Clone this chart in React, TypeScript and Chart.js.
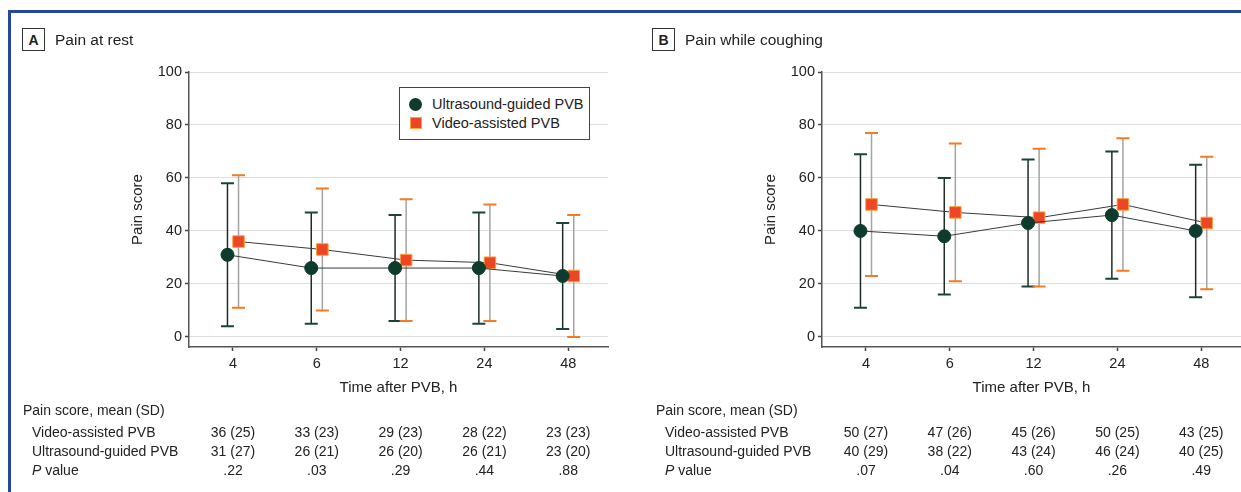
import React, { useEffect, useRef } from 'react';
import { Chart, registerables } from 'chart.js';

Chart.register(...registerables);

const FONT = "'Liberation Sans', Arial, sans-serif";

// ---- data ----
const categories = ['4', '6', '12', '24', '48'];
const yTicks = [0, 20, 40, 60, 80, 100];

const restVideoMean = [36, 33, 29, 28, 23];
const restVideoSD = [25, 23, 23, 22, 23];
const restUSMean = [31, 26, 26, 26, 23];
const restUSSD = [27, 21, 20, 21, 20];
const restP = ['.22', '.03', '.29', '.44', '.88'];

const coughVideoMean = [50, 47, 45, 50, 43];
const coughVideoSD = [27, 26, 26, 25, 25];
const coughUSMean = [40, 38, 43, 46, 40];
const coughUSSD = [29, 22, 24, 24, 25];
const coughP = ['.07', '.04', '.60', '.26', '.49'];

const US_LABEL = 'Ultrasound-guided PVB';
const VIDEO_LABEL = 'Video-assisted PVB';

// ---- styles ----
const GREEN = '#0d3b2d';
const ORANGE = '#ee4524';
const TEXT = '#222222';
const POINT_SHIFT = 0.066;

const errorBarPlugin = {
  id: 'errorBars',
  beforeDatasetsDraw(chart: any) {
    const { ctx } = chart;
    const yScale = chart.scales.y;
    chart.data.datasets.forEach((ds: any, di: number) => {
      const meta = chart.getDatasetMeta(di);
      ds.data.forEach((pt: any, i: number) => {
        const el = meta.data[i];
        if (!el) return;
        const x = el.x;
        const sd = ds.sd[i];
        const yTop = yScale.getPixelForValue(pt.y + sd);
        const yBot = yScale.getPixelForValue(pt.y - sd);
        ctx.save();
        ctx.strokeStyle = ds.barColor;
        ctx.lineWidth = 1.5;
        ctx.beginPath();
        ctx.moveTo(x, yTop);
        ctx.lineTo(x, yBot);
        ctx.stroke();
        ctx.strokeStyle = ds.capColor;
        ctx.lineWidth = 2;
        ctx.beginPath();
        ctx.moveTo(x - 6.5, yTop);
        ctx.lineTo(x + 6.5, yTop);
        ctx.moveTo(x - 6.5, yBot);
        ctx.lineTo(x + 6.5, yBot);
        ctx.stroke();
        ctx.restore();
      });
    });
  },
};

const tablePlugin = {
  id: 'painTable',
  afterDraw(chart: any, _args: any, opts: any) {
    const { ctx } = chart;
    const xScale = chart.scales.x;
    ctx.save();
    ctx.fillStyle = TEXT;
    ctx.textBaseline = 'middle';
    const size = opts.fontSize;
    ctx.font = `${size}px ${FONT}`;
    ctx.textAlign = 'left';
    ctx.fillText(opts.header, opts.headerX, opts.headerY);
    opts.rows.forEach((row: any, r: number) => {
      const y = opts.rowY[r];
      ctx.textAlign = 'left';
      if (row.italicFirst) {
        ctx.font = `italic ${size}px ${FONT}`;
        ctx.fillText(row.italicFirst, opts.labelX, y);
        const w = ctx.measureText(row.italicFirst + ' ').width;
        ctx.font = `${size}px ${FONT}`;
        ctx.fillText(row.label, opts.labelX + w, y);
      } else {
        ctx.font = `${size}px ${FONT}`;
        ctx.fillText(row.label, opts.labelX, y);
      }
      ctx.textAlign = 'center';
      row.values.forEach((v: string, i: number) => {
        ctx.fillText(v, xScale.getPixelForValue(i), y);
      });
    });
    ctx.restore();
  },
};

function fmt(mean: number[], sd: number[]) {
  return mean.map((m, i) => `${m} (${sd[i]})`);
}

function buildConfig(
  usMean: number[],
  usSD: number[],
  vMean: number[],
  vSD: number[],
  pVals: string[]
): any {
  const usPts = usMean.map((m, i) => ({ x: i - POINT_SHIFT, y: m }));
  const vPts = vMean.map((m, i) => ({ x: i + POINT_SHIFT, y: m }));
  const tickFont = { family: FONT, size: 14.5 };
  const titleFont = { family: FONT, size: 15 };
  return {
    type: 'scatter',
    data: {
      datasets: [
        {
          label: US_LABEL,
          data: usPts,
          sd: usSD,
          barColor: '#1f2b26',
          capColor: '#174638',
          showLine: true,
          borderColor: '#3a3a3a',
          borderWidth: 1,
          pointStyle: 'circle',
          pointRadius: 6.5,
          pointBackgroundColor: GREEN,
          pointBorderColor: GREEN,
          pointBorderWidth: 1,
        },
        {
          label: VIDEO_LABEL,
          data: vPts,
          sd: vSD,
          barColor: '#a3a3a3',
          capColor: '#f47b20',
          showLine: true,
          borderColor: '#3a3a3a',
          borderWidth: 1,
          pointStyle: 'rect',
          pointRadius: 8.2,
          pointBackgroundColor: ORANGE,
          pointBorderColor: '#f9a441',
          pointBorderWidth: 1,
        },
      ],
    },
    options: {
      responsive: false,
      animation: false,
      events: [],
      layout: { padding: { top: 72, right: 25, left: 0, bottom: 0 } },
      plugins: {
        legend: { display: false },
        tooltip: { enabled: false },
        painTable: {
          fontSize: 14,
          header: 'Pain score, mean (SD)',
          headerX: 23,
          headerY: 411,
          labelX: 32,
          rowY: [433, 452, 471],
          rows: [
            { label: VIDEO_LABEL, values: fmt(vMean, vSD) },
            { label: US_LABEL, values: fmt(usMean, usSD) },
            { italicFirst: 'P', label: 'value', values: pVals },
          ],
        },
      },
      scales: {
        x: {
          type: 'linear',
          min: -0.525,
          max: 4.475,
          afterBuildTicks: (ax: any) => {
            ax.ticks = categories.map((_, i) => ({ value: i }));
          },
          afterFit: (s: any) => {
            s.height = 145;
          },
          ticks: {
            callback: (v: any) => categories[v] ?? '',
            font: tickFont,
            color: TEXT,
            padding: 4,
            autoSkip: false,
            maxRotation: 0,
          },
          grid: {
            drawOnChartArea: false,
            drawTicks: true,
            tickLength: 4,
            tickColor: '#444',
            tickWidth: 1.5,
          },
          border: { display: true, color: '#555', width: 1.5 },
          title: {
            display: true,
            text: 'Time after PVB, h',
            font: titleFont,
            color: TEXT,
            padding: { top: 0, bottom: 95 },
          },
        },
        y: {
          type: 'linear',
          min: -3.8,
          max: 100,
          afterBuildTicks: (ax: any) => {
            ax.ticks = yTicks.map((v) => ({ value: v }));
          },
          afterFit: (s: any) => {
            s.width = 189;
          },
          ticks: { font: tickFont, color: TEXT, padding: 3 },
          grid: {
            color: '#dedede',
            lineWidth: 1,
            drawTicks: true,
            tickLength: 4,
            tickColor: '#444',
            tickWidth: 1.5,
          },
          border: { display: true, color: '#555', width: 1.5 },
          title: {
            display: true,
            text: 'Pain score',
            font: titleFont,
            color: TEXT,
            padding: { top: 129, bottom: 0 },
          },
        },
      },
    },
    plugins: [errorBarPlugin, tablePlugin],
  };
}

function PanelTitle({ left, letter, text }: { left: number; letter: string; text: string }) {
  return (
    <>
      <div
        style={{
          position: 'absolute',
          left,
          top: 28,
          width: 21,
          height: 21,
          border: '1.5px solid #333',
          display: 'flex',
          alignItems: 'center',
          justifyContent: 'center',
          fontWeight: 'bold',
          fontSize: 14,
          color: TEXT,
          background: '#fff',
        }}
      >
        {letter}
      </div>
      <div
        style={{
          position: 'absolute',
          left: left + 33,
          top: 29,
          height: 22,
          lineHeight: '22px',
          fontSize: 15.5,
          color: TEXT,
          whiteSpace: 'nowrap',
        }}
      >
        {text}
      </div>
    </>
  );
}

export default function App() {
  const leftRef = useRef<HTMLCanvasElement>(null);
  const rightRef = useRef<HTMLCanvasElement>(null);

  useEffect(() => {
    const c1 = new Chart(
      leftRef.current as HTMLCanvasElement,
      buildConfig(restUSMean, restUSSD, restVideoMean, restVideoSD, restP)
    );
    const c2 = new Chart(
      rightRef.current as HTMLCanvasElement,
      buildConfig(coughUSMean, coughUSSD, coughVideoMean, coughVideoSD, coughP)
    );
    return () => {
      c1.destroy();
      c2.destroy();
    };
  }, []);

  return (
    <div
      style={{
        position: 'fixed',
        left: 0,
        top: 0,
        width: 1241,
        height: 492,
        overflow: 'hidden',
        background: '#fff',
        fontFamily: FONT,
      }}
    >
      <canvas
        ref={leftRef}
        width={633}
        height={492}
        style={{ position: 'absolute', left: 0, top: 0, width: 633, height: 492 }}
      />
      <canvas
        ref={rightRef}
        width={633}
        height={492}
        style={{ position: 'absolute', left: 633, top: 0, width: 633, height: 492 }}
      />
      <div style={{ position: 'absolute', left: 8, top: 10, width: 1240, height: 3, background: '#27479a' }} />
      <div style={{ position: 'absolute', left: 8, top: 10, width: 3, height: 482, background: '#27479a' }} />
      <PanelTitle left={22} letter="A" text="Pain at rest" />
      <PanelTitle left={652} letter="B" text="Pain while coughing" />
      <div
        style={{
          position: 'absolute',
          left: 399,
          top: 87,
          width: 189,
          height: 51,
          border: '1.5px solid #444',
          background: '#fff',
          fontSize: 14.5,
          color: TEXT,
        }}
      >
        <div style={{ position: 'absolute', left: 9, top: 10, width: 13, height: 13, borderRadius: '50%', background: GREEN }} />
        <div style={{ position: 'absolute', left: 32, top: 6, lineHeight: '20px', whiteSpace: 'nowrap' }}>{US_LABEL}</div>
        <div
          style={{
            position: 'absolute',
            left: 10,
            top: 29,
            width: 10,
            height: 10,
            background: ORANGE,
            border: '1px solid #f9a441',
          }}
        />
        <div style={{ position: 'absolute', left: 32, top: 25, lineHeight: '20px', whiteSpace: 'nowrap' }}>{VIDEO_LABEL}</div>
      </div>
    </div>
  );
}
